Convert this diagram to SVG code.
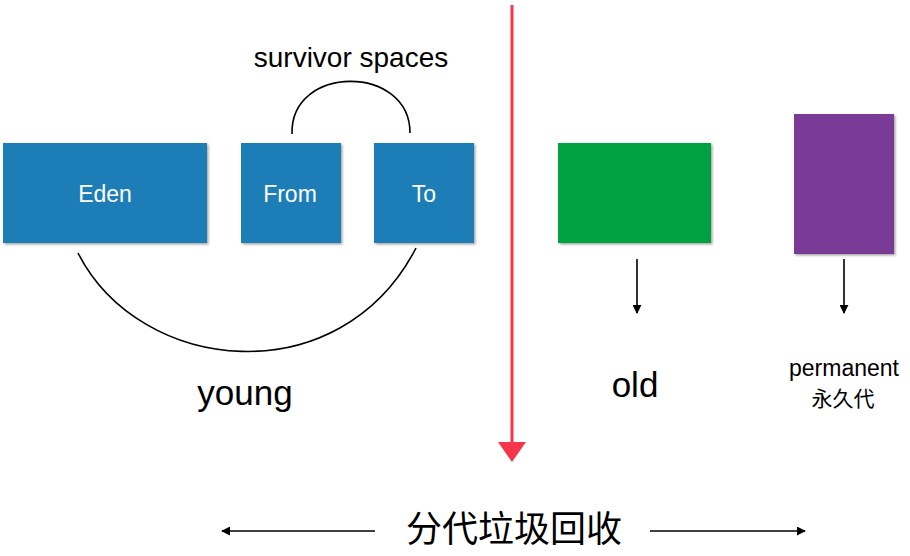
<svg xmlns="http://www.w3.org/2000/svg" width="910" height="556" viewBox="0 0 910 556">
<defs>
<style>
.box{filter:url(#sh)}
.lbl{font-family:"Liberation Sans",Arial,sans-serif;fill:#000}
.wl{font-family:"Liberation Sans",Arial,sans-serif;fill:#fff;font-size:23px;text-anchor:middle}
.cjk{font-family:"Liberation Sans","Noto Sans CJK SC",sans-serif;fill:#000}
.ln{fill:none;stroke:#000;stroke-width:1.6}
</style>
<filter id="sh" x="-10%" y="-10%" width="125%" height="130%">
<feDropShadow dx="1.5" dy="1.5" stdDeviation="1.2" flood-color="#000" flood-opacity="0.35"/>
</filter>
<marker id="ah" viewBox="0 0 10 10" refX="9" refY="5" markerWidth="9" markerHeight="9" markerUnits="userSpaceOnUse" orient="auto">
<path d="M0,0 L10,5 L0,10 Z" fill="#000"/>
</marker>
</defs>
<rect width="910" height="556" fill="#fff"/>
<g id="eden"><rect class="box" x="3" y="143" width="204" height="100" fill="#1a7db7"/><text class="wl" x="105" y="202">Eden</text></g>
<g id="from"><rect class="box" x="241" y="143" width="100" height="100" fill="#1a7db7"/><text class="wl" x="290" y="202">From</text></g>
<g id="to"><rect class="box" x="374" y="143" width="100" height="100" fill="#1a7db7"/><text class="wl" x="424" y="202">To</text></g>
<g id="old"><rect class="box" x="558" y="143" width="153" height="100" fill="#00a13f"/></g>
<g id="perm"><rect class="box" x="794" y="114" width="100" height="140" fill="#7a3a96"/></g>
<g id="connectors">
<path class="ln" d="M292,134 C290,64 410,64 410,133"/>
<path class="ln" d="M78,253 C140,375 340,395 416,248"/>
<line class="ln" x1="637" y1="259" x2="637" y2="313" marker-end="url(#ah)"/>
<line class="ln" x1="844" y1="259" x2="844" y2="313" marker-end="url(#ah)"/>
<line class="ln" x1="375" y1="531" x2="222" y2="531" stroke-width="2" marker-end="url(#ah)"/>
<line class="ln" x1="650" y1="531" x2="805" y2="531" stroke-width="2" marker-end="url(#ah)"/>
<path d="M512,5 L512,444" fill="none" stroke="#f5364a" stroke-width="3"/>
<path d="M498,442 L526,442 L512,462 Z" fill="#f5364a"/>
</g>
<g id="labels">
<text class="lbl" x="351" y="67" font-size="28" text-anchor="middle">survivor spaces</text>
<text class="lbl" x="245" y="405" font-size="35" text-anchor="middle">young</text>
<text class="lbl" x="635" y="397" font-size="35" text-anchor="middle">old</text>
<text class="lbl" x="844" y="376" font-size="23" text-anchor="middle">permanent</text>
<text class="cjk" x="843" y="406" font-size="21" text-anchor="middle">永久代</text>
<text class="cjk" x="514" y="542" font-size="36" text-anchor="middle">分代垃圾回收</text>
</g>
</svg>
